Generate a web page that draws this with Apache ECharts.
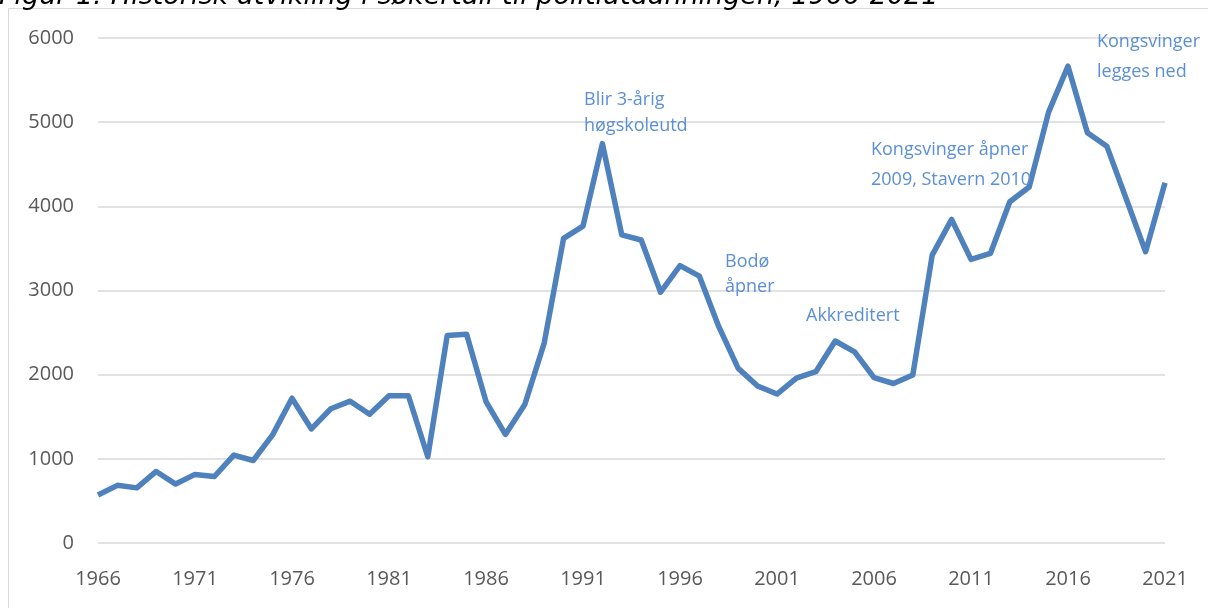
<!DOCTYPE html>
<html>
<head>
<meta charset="utf-8">
<script src="https://cdn.jsdelivr.net/npm/echarts@6/dist/echarts.min.js"></script>
<style>
  html, body { margin: 0; padding: 0; background: #fff; }
  #chart { width: 1208px; height: 608px; }
</style>
</head>
<body>
<div id="chart"></div>
<script>
const years = ['1966','1967','1968','1969','1970','1971','1972','1973','1974','1975',
  '1976','1977','1978','1979','1980','1981','1982','1983','1984','1985',
  '1986','1987','1988','1989','1990','1991','1992','1993','1994','1995',
  '1996','1997','1998','1999','2000','2001','2002','2003','2004','2005',
  '2006','2007','2008','2009','2010','2011','2012','2013','2014','2015',
  '2016','2017','2018','2019','2020','2021'];

// søkertall per år (lest av figuren)
const applicants = [570, 685, 655, 850, 700, 815, 790, 1045, 980, 1285,
  1720, 1355, 1595, 1685, 1530, 1750, 1750, 1025, 2465, 2480,
  1680, 1290, 1645, 2375, 3620, 3765, 4745, 3660, 3600, 2980,
  3295, 3170, 2570, 2075, 1865, 1770, 1960, 2035, 2400, 2270,
  1965, 1895, 1995, 3420, 3845, 3370, 3440, 4055, 4230, 5120,
  5665, 4875, 4715, 4090, 3460, 4280];

const yTicks = [0, 1000, 2000, 3000, 4000, 5000, 6000];

const titleText = 'Figur 1: Historisk utvikling i søkertall til politiutdanningen, 1966-2021';

// tekst i figuren: [tekst, x, grunnlinje]
const notes = [
  ['Blir 3-årig', 584, 106],
  ['høgskoleutd', 584, 132],
  ['Bodø', 725, 268],
  ['åpner', 725, 293],
  ['Akkreditert', 806, 322],
  ['Kongsvinger åpner', 871, 156],
  ['2009, Stavern 2010', 871, 186],
  ['Kongsvinger', 1097, 48],
  ['legges ned', 1097, 78]
];

const chart = echarts.init(document.getElementById('chart'));

const noteEls = notes.map(n => ({
  type: 'text',
  z: 10,
  style: {
    text: n[0],
    x: n[1],
    y: n[2] - 6.5,
    verticalAlign: 'middle',
    font: '18px "Open Sans"',
    fill: '#5b8fd6'
  }
}));

chart.setOption({
  animation: false,
  backgroundColor: '#fff',
  grid: { left: 98, right: 43, top: 38, bottom: 65 },
  xAxis: {
    type: 'category',
    data: years,
    boundaryGap: false,
    axisLine: { show: false },
    axisTick: { show: false },
    axisLabel: {
      interval: 4,
      margin: 26,
      color: '#595959',
      fontFamily: 'Open Sans',
      fontSize: 20
    },
    splitLine: { show: false }
  },
  yAxis: {
    type: 'value',
    min: yTicks[0],
    max: yTicks[yTicks.length - 1],
    interval: 1000,
    axisLine: { show: false },
    axisTick: { show: false },
    axisLabel: {
      margin: 24,
      color: '#595959',
      fontFamily: 'Open Sans',
      fontSize: 20,
      formatter: v => String(v)
    },
    splitLine: { lineStyle: { color: '#d9d9d9', width: 1.5 } }
  },
  series: [{
    type: 'line',
    data: applicants,
    showSymbol: false,
    symbol: 'none',
    lineStyle: { color: '#4f81bd', width: 5.5, join: 'round' }
  }],
  graphic: [
    {
      type: 'rect',
      silent: true,
      shape: { x: 8.5, y: 8.5, width: 1400, height: 800 },
      style: { fill: null, stroke: '#d9d9d9', lineWidth: 1 }
    },
    {
      type: 'text',
      style: {
        text: titleText,
        x: -1,
        y: -3,
        verticalAlign: 'middle',
        font: 'italic 27px "DejaVu Sans"',
        fill: '#000'
      }
    }
  ].concat(noteEls)
});
</script>
</body>
</html>
